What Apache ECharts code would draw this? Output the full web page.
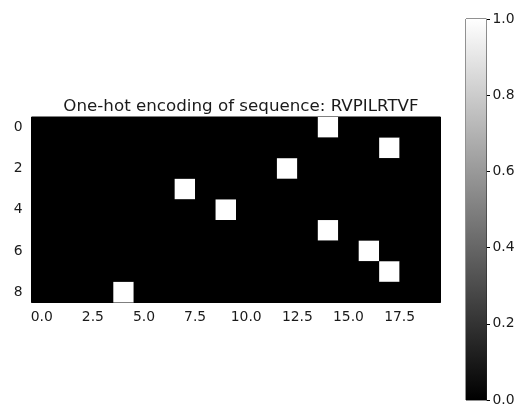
<!DOCTYPE html>
<html>
<head>
<meta charset="utf-8">
<script src="https://cdn.jsdelivr.net/npm/echarts@6/dist/echarts.min.js"></script>
<style>
  html, body { margin: 0; padding: 0; background: #fff; }
  #chart { width: 519px; height: 407px; }
</style>
</head>
<body>
<div id="chart"></div>
<script>
// sequence and alphabet for the one-hot matrix
const sequence = 'RVPILRTVF'
const alphabet = 'ACDEFGHIKLMNPQRSTVWY'
// tick labels
const xTicks = [0, 2.5, 5, 7.5, 10, 12.5, 15, 17.5]
const yTicks = [0, 2, 4, 6, 8]

// cells: [column, row, value]
const cells = []
for (let r = 0; r < sequence.length; r++) {
  for (let c = 0; c < alphabet.length; c++) {
    cells.push([c, r, alphabet[c] === sequence[r] ? 1 : 0])
  }
}

const txt = '#1a1a1a'
const font = 'DejaVu Sans'

const myChart = echarts.init(document.getElementById('chart'))
myChart.setOption({
  animation: false,
  title: {
    text: 'One-hot encoding of sequence: ' + sequence,
    left: 236,
    textAlign: 'center',
    top: 93,
    textStyle: { fontFamily: font, fontSize: 16.7, fontWeight: 'normal', color: txt }
  },
  grid: [
    { left: 31.5, top: 117, width: 409, height: 185.5, show: true, backgroundColor: '#000', borderColor: '#000', borderWidth: 1 },
    { left: 466, top: 19, width: 20.5, height: 383, show: true, borderColor: '#222', borderWidth: 1 }
  ],
  visualMap: {
    show: false,
    seriesIndex: 0,
    dimension: 2,
    min: 0,
    max: 1,
    inRange: { color: ['#000000', '#ffffff'] }
  },
  xAxis: [
    {
      gridIndex: 0,
      type: 'value',
      min: -0.5,
      max: 19.5,
      splitLine: { show: false },
      axisLine: { show: false },
      axisTick: { show: true, length: 3.5, lineStyle: { color: '#000' }, customValues: xTicks },
      axisLabel: {
        margin: 8, fontFamily: font, fontSize: 13.9, color: txt,
        customValues: xTicks,
        formatter: v => v.toFixed(1)
      }
    },
    {
      gridIndex: 1,
      type: 'category',
      data: [''],
      show: false
    }
  ],
  yAxis: [
    {
      gridIndex: 0,
      type: 'value',
      inverse: true,
      min: -0.5,
      max: 8.5,
      splitLine: { show: false },
      axisLine: { show: false },
      axisTick: { show: true, length: 3.5, lineStyle: { color: '#000' }, customValues: yTicks },
      axisLabel: {
        margin: 9, fontFamily: font, fontSize: 13.9, color: txt,
        customValues: yTicks
      }
    },
    {
      gridIndex: 1,
      type: 'value',
      position: 'right',
      min: 0,
      max: 1,
      interval: 0.2,
      splitLine: { show: false },
      axisLine: { show: false },
      axisTick: { show: true, length: 3.5, lineStyle: { color: '#000' } },
      axisLabel: {
        margin: 6, fontFamily: font, fontSize: 13.9, color: txt,
        formatter: v => v.toFixed(1)
      }
    }
  ],
  series: [
    {
      type: 'custom',
      xAxisIndex: 0,
      yAxisIndex: 0,
      data: cells,
      renderItem: function(params, api) {
        const p0 = api.coord([api.value(0) - 0.5, api.value(1) - 0.5])
        const p1 = api.coord([api.value(0) + 0.5, api.value(1) + 0.5])
        return {
          type: 'rect',
          shape: {
            x: Math.min(p0[0], p1[0]),
            y: Math.min(p0[1], p1[1]),
            width: Math.abs(p1[0] - p0[0]),
            height: Math.abs(p1[1] - p0[1])
          },
          style: { fill: api.visual('color') }
        }
      }
    },
    {
      type: 'bar',
      xAxisIndex: 1,
      yAxisIndex: 1,
      data: [1],
      barWidth: '100%',
      silent: true,
      itemStyle: {
        color: new echarts.graphic.LinearGradient(0, 0, 0, 1, [
          { offset: 0, color: '#ffffff' },
          { offset: 1, color: '#000000' }
        ])
      }
    }
  ]
})
window.addEventListener('resize', function() {
  myChart.resize()
})
</script>
</body>
</html>
